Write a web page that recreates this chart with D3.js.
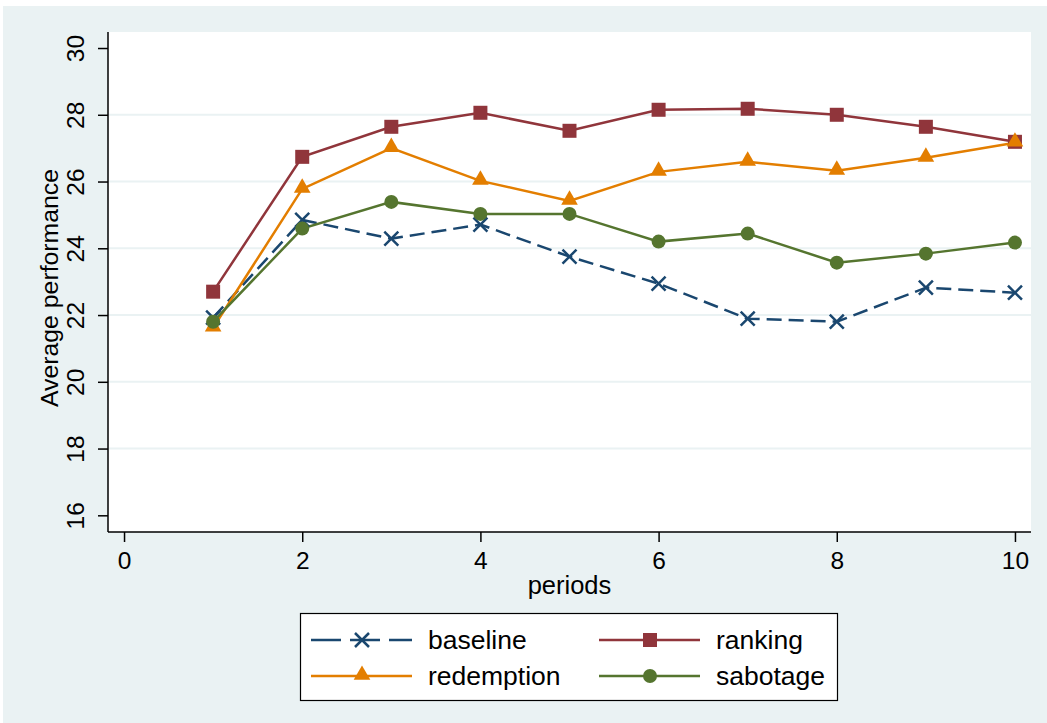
<!DOCTYPE html>
<html>
<head>
<meta charset="utf-8">
<script src="https://cdn.jsdelivr.net/npm/d3@7"></script>
<style>
  html, body { margin: 0; padding: 0; background: #fff; }
  text { font-family: "Liberation Sans", Arial, sans-serif; fill: #000; }
</style>
</head>
<body>
<div id="chart"></div>
<script>
const WIDTH = 1047, HEIGHT = 723;
const PLOT = {left: 108, right: 1031, top: 32, bottom: 532};

const periods = [1, 2, 3, 4, 5, 6, 7, 8, 9, 10];
const baseline = [21.92, 24.85, 24.29, 24.71, 23.75, 22.94, 21.89, 21.80, 22.82, 22.67];
const ranking = [22.70, 26.74, 27.64, 28.06, 27.52, 28.15, 28.18, 28.00, 27.64, 27.19];
const redemption = [21.62, 25.78, 27.00, 26.02, 25.42, 26.29, 26.59, 26.32, 26.71, 27.16];
const sabotage = [21.80, 24.59, 25.39, 25.03, 25.03, 24.20, 24.44, 23.57, 23.84, 24.17];
const xTicks = [0, 2, 4, 6, 8, 10];
const yTicks = [16, 18, 20, 22, 24, 26, 28, 30];

const series = [
    {name: "baseline", values: baseline, color: "#1a476f", marker: "x", dash: "15,7"},
    {name: "ranking", values: ranking, color: "#90353b", marker: "square", dash: null},
    {name: "redemption", values: redemption, color: "#e37e00", marker: "triangle", dash: null},
    {name: "sabotage", values: sabotage, color: "#55752f", marker: "circle", dash: null}
];

var svg = d3.select("#chart").append("svg")
    .attr("width", WIDTH)
    .attr("height", HEIGHT);

// outer background
svg.append("rect")
    .attr("x", 3).attr("y", 6)
    .attr("width", WIDTH - 3).attr("height", HEIGHT - 6)
    .attr("fill", "#eaf2f3");

svg.append("rect")
    .attr("x", PLOT.left).attr("y", PLOT.top)
    .attr("width", PLOT.right - PLOT.left).attr("height", PLOT.bottom - PLOT.top)
    .attr("fill", "#fff");

var xScale = d3.scaleLinear()
    .domain([-0.18, 10.18])
    .range([PLOT.left, PLOT.right]);

var yScale = d3.scaleLinear()
    .domain([15.5, 30.48])
    .range([PLOT.bottom, PLOT.top]);

// gridlines
svg.append("g")
    .selectAll("line")
    .data(yTicks.filter(function (d) { return d > 16 && d < 30; }))
    .enter()
    .append("line")
    .attr("x1", PLOT.left).attr("x2", PLOT.right)
    .attr("y1", function (d) { return yScale(d); })
    .attr("y2", function (d) { return yScale(d); })
    .attr("stroke", "#eaf2f3")
    .attr("stroke-width", 2);

// axes
var xAxis = d3.axisBottom(xScale).tickValues(xTicks).tickSize(10).tickPadding(10);
var yAxis = d3.axisLeft(yScale).tickValues(yTicks).tickSize(10).tickPadding(14);

var gx = svg.append("g")
    .attr("transform", "translate(0," + PLOT.bottom + ")")
    .call(xAxis);
gx.select(".domain").attr("d", "M" + PLOT.left + ",0H" + PLOT.right);
gx.selectAll("text").style("font-size", "24.5px");

var gy = svg.append("g")
    .attr("transform", "translate(" + PLOT.left + ",0)")
    .call(yAxis);
gy.select(".domain").attr("d", "M0," + PLOT.bottom + "V" + PLOT.top);
gy.selectAll(".tick text")
    .style("font-size", "24.5px")
    .attr("text-anchor", "middle")
    .attr("dy", null)
    .attr("x", null)
    .attr("transform", "translate(-24,0) rotate(-90)")
    .attr("y", 0);

svg.selectAll(".domain, .tick line").attr("stroke", "#000").attr("stroke-width", 1.5);

// axis titles
svg.append("text")
    .attr("x", (PLOT.left + PLOT.right) / 2)
    .attr("y", 594)
    .attr("text-anchor", "middle")
    .style("font-size", "25.5px")
    .text("periods");

svg.append("text")
    .attr("transform", "translate(58," + ((PLOT.top + PLOT.bottom) / 2 + 6) + ") rotate(-90)")
    .attr("text-anchor", "middle")
    .style("font-size", "24.8px")
    .text("Average performance");

var drawMarker = function (sel, type, color) {
    if (type === "square") {
        sel.append("rect")
            .attr("x", -7).attr("y", -7).attr("width", 14).attr("height", 14)
            .attr("fill", color);
    } else if (type === "circle") {
        sel.append("circle").attr("r", 7).attr("fill", color);
    } else if (type === "triangle") {
        sel.append("path")
            .attr("d", d3.symbol().type(d3.symbolTriangle).size(120))
            .attr("transform", "translate(0,-1)")
            .attr("fill", color);
    } else {
        sel.append("path")
            .attr("d", "M-7,-7L7,7M-7,7L7,-7")
            .attr("stroke", color)
            .attr("stroke-width", 2.5)
            .attr("fill", "none");
    }
};

var line = d3.line()
    .x(function (d, i) { return xScale(periods[i]); })
    .y(function (d) { return yScale(d); });

series.forEach(function (s) {
    svg.append("path")
        .attr("d", line(s.values))
        .attr("fill", "none")
        .attr("stroke", s.color)
        .attr("stroke-width", 2.5)
        .attr("stroke-dasharray", s.dash);
});

series.forEach(function (s) {
    svg.append("g")
        .selectAll("g")
        .data(s.values)
        .enter()
        .append("g")
        .attr("transform", function (d, i) {
            return "translate(" + xScale(periods[i]) + "," + yScale(d) + ")";
        })
        .each(function () { drawMarker(d3.select(this), s.marker, s.color); });
});

// legend
var legend = svg.append("g");
legend.append("rect")
    .attr("x", 300.5).attr("y", 613.5)
    .attr("width", 537).attr("height", 87)
    .attr("fill", "#fff")
    .attr("stroke", "#000")
    .attr("stroke-width", 1.2);

series.forEach(function (s, i) {
    var cx = i % 2 === 0 ? 311 : 599;
    var cy = i < 2 ? 640 : 676;
    var item = legend.append("g").attr("transform", "translate(" + cx + "," + cy + ")");
    item.append("line")
        .attr("x1", 0).attr("x2", 101)
        .attr("stroke", s.color)
        .attr("stroke-width", 2.5)
        .attr("stroke-dasharray", s.dash ? "30,9" : null);
    var m = item.append("g").attr("transform", "translate(51,0)");
    drawMarker(m, s.marker, s.color);
    item.append("text")
        .attr("x", 117)
        .attr("y", 9)
        .style("font-size", "26.5px")
        .text(s.name);
});
</script>
</body>
</html>
